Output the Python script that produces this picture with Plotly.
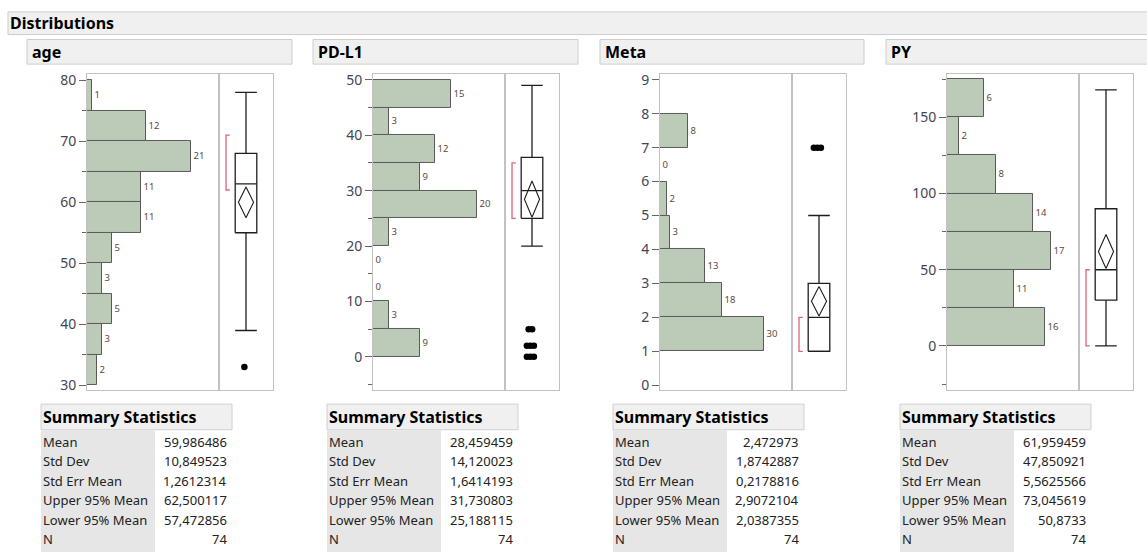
import plotly.graph_objects as go

W, H = 1147, 553

# ---------------- data ----------------
variables = ["age", "PD-L1", "Meta", "PY"]

# histogram bins (edges) and counts
age_bin_edges = [30, 35, 40, 45, 50, 55, 60, 65, 70, 75, 80]
age_counts = [2, 3, 5, 3, 5, 11, 11, 21, 12, 1]
pdl1_bin_edges = [0, 5, 10, 15, 20, 25, 30, 35, 40, 45, 50]
pdl1_counts = [9, 3, 0, 0, 3, 20, 9, 12, 3, 15]
meta_bin_edges = [1, 2, 3, 4, 5, 6, 7, 8]
meta_counts = [30, 18, 13, 3, 2, 0, 8]
py_bin_edges = [0, 25, 50, 75, 100, 125, 150, 175]
py_counts = [16, 11, 17, 14, 8, 2, 6]

# box plot: [q1, median, q3], whiskers [low, high], outliers, shortest half
age_quartiles = [55, 63, 68]
age_whiskers = [39, 78]
age_outliers = [33]
age_shortest_half = [62, 71]
pdl1_quartiles = [25, 30, 36]
pdl1_whiskers = [20, 49]
pdl1_outliers = [5, 5, 2, 2, 2, 0, 0, 0]
pdl1_shortest_half = [25, 35]
meta_quartiles = [1, 2, 3]
meta_whiskers = [1, 5]
meta_outliers = [7, 7, 7]
meta_shortest_half = [1, 2]
py_quartiles = [30, 50, 90]
py_whiskers = [0, 168]
py_outliers = []
py_shortest_half = [0, 50]

# summary statistics
stat_labels = ["Mean", "Std Dev", "Std Err Mean", "Upper 95% Mean", "Lower 95% Mean", "N"]
age_stats = [59.986486, 10.849523, 1.2612314, 62.500117, 57.472856, 74]
pdl1_stats = [28.459459, 14.120023, 1.6414193, 31.730803, 25.188115, 74]
meta_stats = [2.472973, 1.8742887, 0.2178816, 2.9072104, 2.0387355, 74]
py_stats = [61.959459, 47.850921, 5.5625566, 73.045619, 50.8733, 74]

# axis settings
age_ticks = dict(range=[29.2, 81.0], dtick=10, minor_dtick=5)
pdl1_ticks = dict(range=[-6.05, 51.07], dtick=10, minor_dtick=5)
meta_ticks = dict(range=[-0.15, 9.17], dtick=1, minor_dtick=None)
py_ticks = dict(range=[-29.1, 178.4], dtick=50, minor_dtick=25)

panels = [
    (age_bin_edges, age_counts, age_quartiles, age_whiskers, age_outliers, age_shortest_half, age_stats, age_ticks),
    (pdl1_bin_edges, pdl1_counts, pdl1_quartiles, pdl1_whiskers, pdl1_outliers, pdl1_shortest_half, pdl1_stats, pdl1_ticks),
    (meta_bin_edges, meta_counts, meta_quartiles, meta_whiskers, meta_outliers, meta_shortest_half, meta_stats, meta_ticks),
    (py_bin_edges, py_counts, py_quartiles, py_whiskers, py_outliers, py_shortest_half, py_stats, py_ticks),
]

# ---------------- layout helpers ----------------
def xd(px):
    return px / W

def yd(px):
    return 1 - px / H

FONT = "Noto Sans, Open Sans, DejaVu Sans, sans-serif"
FRAME = "#c2c2c2"
BAR_FILL = "#bccab8"
BAR_LINE = "#5a5a5a"
BOX_LINE = "#1e1e1e"
RED = "#e06376"

hist_left = [87, 373, 660, 947]
hist_w = 132
box_w = 54
frame_top, frame_bot = 71, 392
title_left = [27, 313, 600, 886]
title_right = [292, 578, 864, 1150]
table_left = [41, 327, 613, 900]

fig = go.Figure()
layout = dict(
    width=W, height=H, autosize=False,
    margin=dict(l=0, r=0, t=0, b=0),
    paper_bgcolor="white", plot_bgcolor="white",
    showlegend=False, bargap=0,
    font=dict(family=FONT, color="#333"),
)
shapes = []
annotations = []

def fmt(v):
    return f"{v:.8g}".replace(".", ",")

for i, (edges, counts, quart, whisk, outl, shalf, stats, tk) in enumerate(panels):
    hx = f"x{2*i+1}" if i > 0 else "x"
    hy = f"y{2*i+1}" if i > 0 else "y"
    bx = f"x{2*i+2}"
    by = f"y{2*i+2}"
    hxa = "xaxis" + (str(2*i+1) if i > 0 else "")
    hya = "yaxis" + (str(2*i+1) if i > 0 else "")
    bxa = "xaxis" + str(2*i+2)
    bya = "yaxis" + str(2*i+2)

    L = hist_left[i]
    ydom = [yd(frame_bot), yd(frame_top)]

    centers = [(edges[k] + edges[k+1]) / 2 for k in range(len(counts))]
    widths = [edges[k+1] - edges[k] for k in range(len(counts))]

    fig.add_trace(go.Bar(
        x=counts, y=centers, width=widths, orientation="h",
        marker=dict(color=BAR_FILL, line=dict(color=BAR_LINE, width=1)),
        text=[str(c) for c in counts], textposition="outside",
        textfont=dict(size=9.5, color="#5a4b3b", family=FONT),
        cliponaxis=False, xaxis=hx, yaxis=hy, hoverinfo="skip",
    ))

    # box plot
    c, w, dw = 0.5, 0.2, 0.14
    q1, med, q3 = quart
    lo, hi = whisk
    mean, up95, low95 = stats[0], stats[3], stats[4]
    bxs = [c-w, c+w, c+w, c-w, c-w, None, c-w, c+w, None,
           c, c, None, c-w, c+w, None, c, c, None, c-w, c+w]
    bys = [q1, q1, q3, q3, q1, None, med, med, None,
           q3, hi, None, hi, hi, None, q1, lo, None, lo, lo]
    fig.add_trace(go.Scatter(x=bxs, y=bys, mode="lines",
                             line=dict(color=BOX_LINE, width=1.3),
                             xaxis=bx, yaxis=by, hoverinfo="skip"))
    fig.add_trace(go.Scatter(x=[c, c+dw, c, c-dw, c], y=[low95, mean, up95, mean, low95],
                             mode="lines", line=dict(color=BOX_LINE, width=1.1),
                             xaxis=bx, yaxis=by, hoverinfo="skip"))
    brx, brt = 0.13, 0.2
    fig.add_trace(go.Scatter(x=[brt, brx, brx, brt], y=[shalf[0], shalf[0], shalf[1], shalf[1]],
                             mode="lines", line=dict(color=RED, width=1.3),
                             xaxis=bx, yaxis=by, hoverinfo="skip"))
    if outl:
        ox, oy = [], []
        for v in sorted(set(outl)):
            n = outl.count(v)
            for k in range(n):
                ox.append(c - 0.03 + (k - (n - 1) / 2) * 0.065)
                oy.append(v)
        fig.add_trace(go.Scatter(x=ox, y=oy, mode="markers",
                                 marker=dict(color="black", size=6.5),
                                 xaxis=bx, yaxis=by, hoverinfo="skip"))

    # axes
    layout[hxa] = dict(domain=[xd(L), xd(L + hist_w)], range=[0, max(counts) * 1.27],
                       showline=True, mirror=True, linecolor=FRAME, linewidth=1,
                       showgrid=False, zeroline=False, showticklabels=False, ticks="",
                       anchor=hy, fixedrange=True)
    minor = dict(ticks="outside", ticklen=4, tickcolor="#666", dtick=tk["minor_dtick"], showgrid=False) \
        if tk["minor_dtick"] else dict(ticks="")
    layout[hya] = dict(domain=ydom, range=tk["range"], dtick=tk["dtick"], tick0=0,
                       showline=True, mirror=True, linecolor=FRAME, linewidth=1,
                       showgrid=False, zeroline=False, ticks="outside", ticklen=7,
                       tickcolor="#666", tickfont=dict(size=14, color="#454552", family=FONT),
                       minor=minor, anchor=hx, fixedrange=True)
    layout[bxa] = dict(domain=[xd(L + hist_w), xd(L + hist_w + box_w)], range=[0, 1],
                       showline=True, mirror=True, linecolor=FRAME, linewidth=1,
                       showgrid=False, zeroline=False, showticklabels=False, ticks="",
                       anchor=by, fixedrange=True)
    layout[bya] = dict(domain=ydom, range=tk["range"],
                       showline=True, mirror=True, linecolor=FRAME, linewidth=1,
                       showgrid=False, zeroline=False, showticklabels=False, ticks="",
                       anchor=bx, fixedrange=True)

    # panel title bar
    shapes.append(dict(type="rect", xref="paper", yref="paper",
                       x0=xd(title_left[i]), x1=xd(title_right[i]), y0=yd(61), y1=yd(36),
                       fillcolor="#f0f0f0", line=dict(color="#cdcdcd", width=1), layer="below"))
    annotations.append(dict(text=f"<b>{variables[i]}</b>", xref="paper", yref="paper",
                            x=xd(title_left[i] + 3), y=yd(48.5), xanchor="left", yanchor="middle",
                            showarrow=False, font=dict(size=16, color="black", family=FONT)))

    # summary statistics table
    T = table_left[i]
    shapes.append(dict(type="rect", xref="paper", yref="paper",
                       x0=xd(T), x1=xd(T + 191), y0=yd(432), y1=yd(406),
                       fillcolor="#f0f0f0", line=dict(color="#d0d0d0", width=1), layer="below"))
    shapes.append(dict(type="rect", xref="paper", yref="paper",
                       x0=xd(T), x1=xd(T + 114), y0=yd(556), y1=yd(432.5),
                       fillcolor="#e6e6e6", line=dict(width=0), layer="below"))
    annotations.append(dict(text="<b>Summary Statistics</b>", xref="paper", yref="paper",
                            x=xd(T), y=yd(419), xanchor="left", yanchor="middle",
                            showarrow=False, font=dict(size=16, color="black", family=FONT)))
    for r, lab in enumerate(stat_labels):
        yy = yd(444 + 19.8 * r)
        annotations.append(dict(text=lab, xref="paper", yref="paper", x=xd(T), y=yy,
                                xanchor="left", yanchor="middle", showarrow=False,
                                font=dict(size=13, color="#222", family=FONT)))
        annotations.append(dict(text=fmt(stats[r]), xref="paper", yref="paper", x=xd(T + 188), y=yy,
                                xanchor="right", yanchor="middle", showarrow=False,
                                font=dict(size=13, color="#222", family=FONT)))

# Distributions header
shapes.append(dict(type="rect", xref="paper", yref="paper",
                   x0=xd(8), x1=xd(1150), y0=yd(31), y1=yd(8),
                   fillcolor="#f0f0f0", line=dict(color="#cdcdcd", width=1), layer="below"))
annotations.append(dict(text="<b>Distributions</b>", xref="paper", yref="paper",
                        x=xd(8), y=yd(19.5), xanchor="left", yanchor="middle", showarrow=False,
                        font=dict(size=16, color="black", family=FONT)))

layout["shapes"] = shapes
layout["annotations"] = annotations
fig.update_layout(**layout)
fig.write_html("out.html", config={"displayModeBar": False},
               post_script="document.body.style.margin='0';document.body.style.overflow='hidden';")
